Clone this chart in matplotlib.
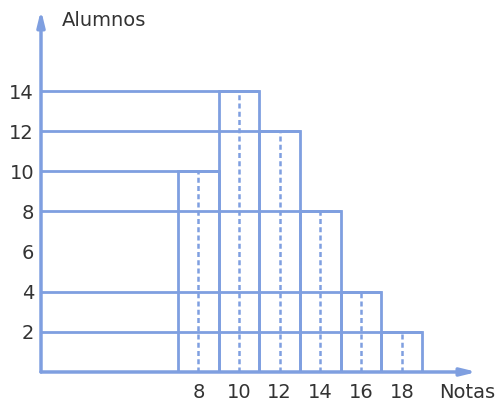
import numpy as np
import matplotlib.pyplot as plt

# class intervals and frequencies
bin_edges = [7, 9, 11, 13, 15, 17, 19]
alumnos = [10, 14, 12, 8, 4, 2]
marcas = [8, 10, 12, 14, 16, 18]
y_ticks = [2, 4, 6, 8, 10, 12, 14]

BLUE = "#7f9fe0"
TEXT = "#333333"

fig = plt.figure(figsize=(5, 4.05), dpi=100)
ax = fig.add_axes([0.082, 0.0815, 0.872, 0.894])
x0 = 0.26
ax.set_xlim(x0, 21.7)
ax.set_ylim(0, 18.04)

lefts = np.array(bin_edges[:-1])
rights = np.array(bin_edges[1:])

# horizontal guide lines from the axis to each bar's right edge
ax.hlines(alumnos, x0, rights, color=BLUE, lw=2)

# bars (outline only)
for l, r, h in zip(lefts, rights, alumnos):
    ax.plot([l, l, r, r], [0, h, h, 0], color=BLUE, lw=2, solid_joinstyle="miter")

# class marks
ax.vlines(marcas, 0, alumnos, color=BLUE, lw=1.8, linestyles=(0, (2, 1.3)))

# axes with arrows
for s in ax.spines.values():
    s.set_visible(False)
ax.annotate("", xy=(0, 1), xytext=(0, 0), xycoords="axes fraction",
            arrowprops=dict(arrowstyle="-|>,head_length=0.9,head_width=0.22",
                            color=BLUE, lw=2.5, shrinkA=0, shrinkB=0))
ax.annotate("", xy=(1, 0), xytext=(0, 0), xycoords="axes fraction",
            arrowprops=dict(arrowstyle="-|>,head_length=0.9,head_width=0.22",
                            color=BLUE, lw=2.5, shrinkA=0, shrinkB=0))

ax.set_yticks(y_ticks)
ax.set_yticklabels([str(v) for v in y_ticks])
ax.set_xticks(marcas)
ax.set_xticklabels([str(v) for v in marcas])
ax.tick_params(length=0, labelsize=14, labelcolor=TEXT)
ax.tick_params(axis="y", pad=5)
ax.tick_params(axis="x", pad=8)

fig.text(0.124, 0.949, "Alumnos", fontsize=14, color=TEXT, va="center", ha="left")
fig.text(0.878, 0.032, "Notas", fontsize=14, color=TEXT, va="center", ha="left")

fig.savefig("out.png", dpi=100)
